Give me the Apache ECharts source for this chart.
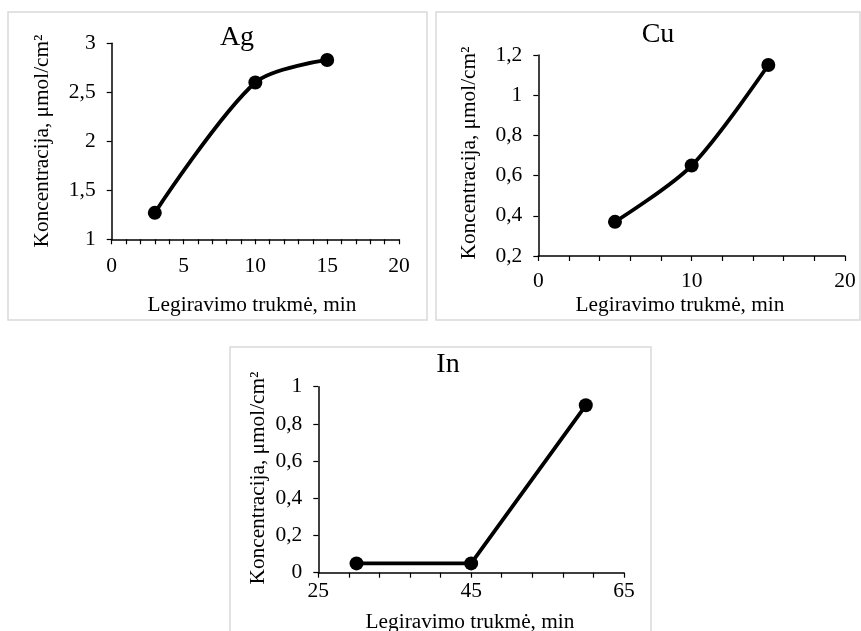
<!DOCTYPE html>
<html>
<head>
<meta charset="utf-8">
<script src="https://cdn.jsdelivr.net/npm/echarts@6/dist/echarts.min.js"></script>
<style>
html,body{margin:0;padding:0;background:#fff;}
#c{width:861px;height:631px;}
</style>
</head>
<body>
<div id="c"></div>
<script>
// Data
const agX = [3, 10, 15];
const agY = [1.27, 2.6, 2.83];
const cuX = [5, 10, 15];
const cuY = [0.37, 0.65, 1.15];
const inX = [30, 45, 60];
const inY = [0.05, 0.05, 0.90];
const titles = ['Ag', 'Cu', 'In'];
const xTitle = 'Legiravimo trukmė, min';
const yTitle = 'Koncentracija, μmol/cm²';

const FONT = '"Liberation Serif", "Times New Roman", serif';
const tickFont = 21.5, axisFont = 21.3, titleFont = 28;

function pairs(xs, ys){ return xs.map((x,i)=>[x, ys[i]]); }
function fmt(v){ return String(+v.toFixed(2)).replace('.', ','); }

const grids = [
  {left:111.7, top:43.3, width:287.3, height:196},
  {left:538.3, top:55, width:306.7, height:201},
  {left:318.3, top:386.7, width:305.7, height:186}
];

function xAxisCfg(gi, min, max, interval, minorSplit, margin){
  return {
    type:'value', gridIndex:gi, min:min, max:max, interval:interval,
    axisLine:{show:true, onZero:false, lineStyle:{color:'#000', width:1.5}},
    axisTick:{show:true, inside:false, length:5, lineStyle:{color:'#000', width:1.2}},
    minorTick:{show:true, splitNumber:minorSplit, length:5, lineStyle:{color:'#000', width:1.2}},
    splitLine:{show:false},
    axisLabel:{color:'#000', fontFamily:FONT, fontSize:tickFont, margin:margin, formatter:fmt}
  };
}
function yAxisCfg(gi, min, max, interval){
  return {
    type:'value', gridIndex:gi, min:min, max:max, interval:interval,
    axisLine:{show:true, onZero:false, lineStyle:{color:'#000', width:1.5}},
    axisTick:{show:true, inside:false, length:5, lineStyle:{color:'#000', width:1.2}},
    splitLine:{show:false},
    axisLabel:{color:'#000', fontFamily:FONT, fontSize:tickFont, margin:16, formatter:fmt}
  };
}
function seriesCfg(gi, data, smooth){
  return {
    type:'line', xAxisIndex:gi, yAxisIndex:gi, data:data, smooth:smooth,
    symbol:'circle', symbolSize:14,
    itemStyle:{color:'#000'},
    lineStyle:{color:'#000', width:3.8},
    animation:false
  };
}
function txt(x, y, s, size, rot){
  return {type:'text', x:x, y:y, rotation:rot||0,
    style:{text:s, fill:'#000', font: size+'px '+FONT, textAlign:'center', textVerticalAlign:'middle'}};
}
function box(x, y, w, h){
  return {type:'rect', shape:{x:x, y:y, width:w, height:h}, style:{fill:'none', stroke:'#d9d9d9', lineWidth:1.5}};
}

const chart = echarts.init(document.getElementById('c'), null, {renderer:'canvas'});
chart.setOption({
  backgroundColor:'#fff',
  animation:false,
  grid: grids,
  xAxis:[
    xAxisCfg(0, 0, 20, 5, 5, 16),
    xAxisCfg(1, 0, 20, 10, 5, 14),
    xAxisCfg(2, 25, 65, 20, 5, 8)
  ],
  yAxis:[
    yAxisCfg(0, 1, 3, 0.5),
    yAxisCfg(1, 0.2, 1.2, 0.2),
    yAxisCfg(2, 0, 1, 0.2)
  ],
  series:[
    seriesCfg(0, pairs(agX, agY), 0.3),
    seriesCfg(1, pairs(cuX, cuY), 0.3),
    seriesCfg(2, pairs(inX, inY), false)
  ],
  graphic:[
    box(8, 12, 419, 308),
    box(436, 12, 424, 308),
    box(230, 347, 421, 300),
    txt(237, 38, titles[0], titleFont),
    txt(658, 35, titles[1], titleFont),
    txt(448, 365, titles[2], titleFont),
    txt(252, 305, xTitle, axisFont),
    txt(680, 305, xTitle, axisFont),
    txt(470, 622, xTitle, axisFont),
    txt(42, 141, yTitle, axisFont, Math.PI/2),
    txt(469, 153, yTitle, axisFont, Math.PI/2),
    txt(258, 478, yTitle, axisFont, Math.PI/2)
  ]
});
</script>
</body>
</html>
